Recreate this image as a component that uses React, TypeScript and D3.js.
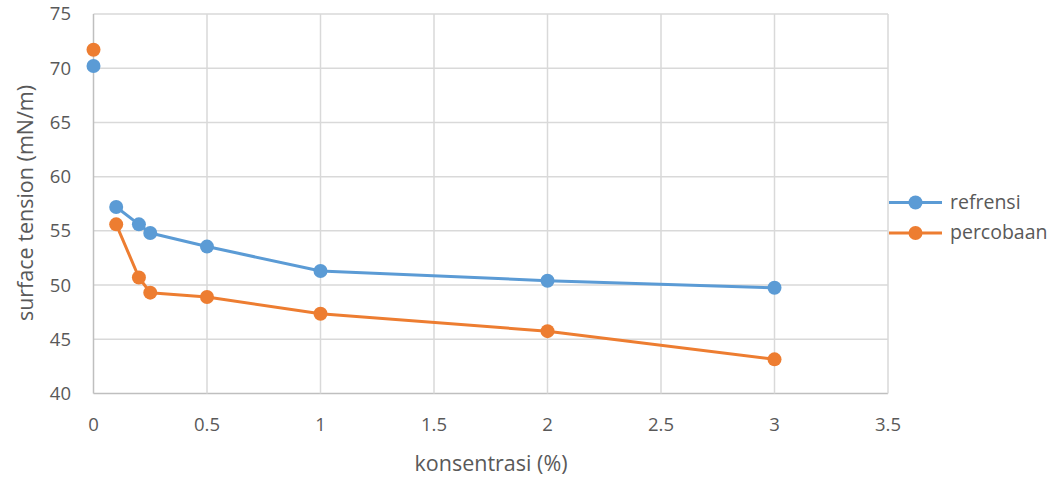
import React from "react";
import * as d3 from "d3";

const concentrations = [0, 0.1, 0.2, 0.25, 0.5, 1, 2, 3];
const refrensi = [70.2, 57.2, 55.6, 54.8, 53.55, 51.3, 50.4, 49.75];
const percobaan = [71.7, 55.6, 50.7, 49.3, 48.9, 47.35, 45.75, 43.15];
const xTicks = [0, 0.5, 1, 1.5, 2, 2.5, 3, 3.5];
const yTicks = [40, 45, 50, 55, 60, 65, 70, 75];
const seriesNames = ["refrensi", "percobaan"];
const colors = ["#5b9bd5", "#ed7d31"];

const W = 1063;
const H = 478;
const left = 93.5;
const right = 888;
const top = 14;
const bottom = 393.5;
const font = "'Open Sans', 'Liberation Sans', sans-serif";
const textColor = "#595959";

export default function App() {
  const x = d3.scaleLinear().domain([0, 3.5]).range([left, right]);
  const y = d3.scaleLinear().domain([40, 75]).range([bottom, top]);
  const series = [refrensi, percobaan];
  const line = d3
    .line<[number, number, number]>()
    .defined((d) => d[2] > 0)
    .x((d) => x(d[0]))
    .y((d) => y(d[1]));

  return (
    <svg
      width={W}
      height={H}
      style={{ position: "absolute", left: 0, top: 0, background: "#fff" }}
    >
      {yTicks.map((t) => (
        <line
          key={"gy" + t}
          x1={left}
          x2={right}
          y1={y(t)}
          y2={y(t)}
          stroke={t === 40 ? "#bfbfbf" : "#d9d9d9"}
          strokeWidth={1.5}
        />
      ))}
      {xTicks.map((t) => (
        <line
          key={"gx" + t}
          x1={x(t)}
          x2={x(t)}
          y1={top}
          y2={bottom}
          stroke={t === 0 ? "#bfbfbf" : "#d9d9d9"}
          strokeWidth={1.5}
        />
      ))}
      {yTicks.map((t) => (
        <text
          key={"ly" + t}
          x={71}
          y={y(t)}
          dy="0.35em"
          textAnchor="end"
          fontFamily={font}
          fontSize={18.5}
          fill={textColor}
        >
          {t}
        </text>
      ))}
      {xTicks.map((t) => (
        <text
          key={"lx" + t}
          x={x(t)}
          y={425}
          dy="0.35em"
          textAnchor="middle"
          fontFamily={font}
          fontSize={18.5}
          fill={textColor}
        >
          {t}
        </text>
      ))}
      <text
        x={491}
        y={463}
        dy="0.35em"
        textAnchor="middle"
        fontFamily={font}
        fontSize={21.5}
        fill={textColor}
      >
        konsentrasi (%)
      </text>
      <text
        transform={`translate(25,${203}) rotate(-90)`}
        dy="0.35em"
        textAnchor="middle"
        fontFamily={font}
        fontSize={21.5}
        fill={textColor}
      >
        surface tension (mN/m)
      </text>
      {series.map((vals, si) => {
        const pts = concentrations.map(
          (c, i) => [c, vals[i], i] as [number, number, number]
        );
        return (
          <g key={"s" + si}>
            <path
              d={line(pts) || ""}
              fill="none"
              stroke={colors[si]}
              strokeWidth={3}
              strokeLinejoin="round"
            />
            {pts.map((p, i) => (
              <circle
                key={i}
                cx={x(p[0])}
                cy={y(p[1])}
                r={7}
                fill={colors[si]}
              />
            ))}
          </g>
        );
      })}
      {seriesNames.map((n, i) => {
        const ly = 202.5 + i * 30.5;
        return (
          <g key={"lg" + n}>
            <line
              x1={889}
              x2={942}
              y1={ly}
              y2={ly}
              stroke={colors[i]}
              strokeWidth={3}
            />
            <circle cx={915.5} cy={ly} r={7} fill={colors[i]} />
            <text
              x={950}
              y={ly}
              dy="0.32em"
              fontFamily={font}
              fontSize={19.5}
              fill={textColor}
            >
              {n}
            </text>
          </g>
        );
      })}
    </svg>
  );
}
